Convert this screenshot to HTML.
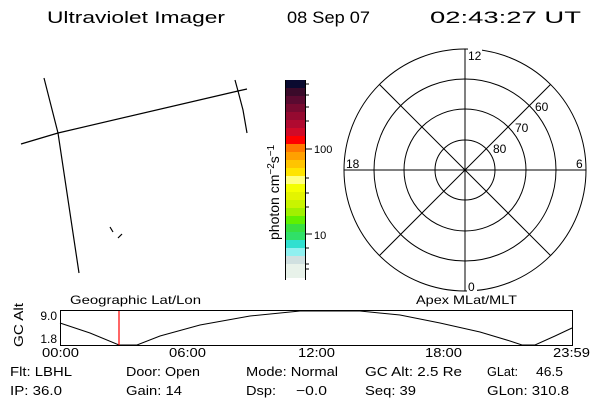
<!DOCTYPE html>
<html><head><meta charset="utf-8"><style>
html,body{margin:0;padding:0;background:#fff;}
svg{display:block;font-family:"Liberation Sans",sans-serif;}
</style></head><body>
<svg width="600" height="400" viewBox="0 0 600 400" xmlns="http://www.w3.org/2000/svg">
<rect width="600" height="400" fill="#fff"/>
<g font-size="17" fill="#000">
<text x="47" y="23" textLength="178" lengthAdjust="spacingAndGlyphs">Ultraviolet Imager</text>
<text x="287" y="23" textLength="83" lengthAdjust="spacingAndGlyphs">08 Sep 07</text>
<text x="430" y="23" textLength="151" lengthAdjust="spacingAndGlyphs">02:43:27 UT</text>
</g>
<g stroke="#000" stroke-width="1.2" fill="none">
<polyline points="44,78 58,133 79,273"/>
<polyline points="21,144 58,133 238,91 247,89"/>
<polyline points="235,80 238,91 243,110 247,133"/>
<line x1="110" y1="227" x2="113" y2="232"/>
<line x1="118" y1="238" x2="122" y2="234"/>
</g>
<g>
<rect x="285" y="80" width="21" height="9" fill="#0a0a30"/>
<rect x="285" y="88" width="21" height="9" fill="#3a0a2a"/>
<rect x="285" y="96" width="21" height="9" fill="#5a0a30"/>
<rect x="285" y="104" width="21" height="9" fill="#780a30"/>
<rect x="285" y="112" width="21" height="9" fill="#950a30"/>
<rect x="285" y="120" width="21" height="9" fill="#b00a30"/>
<rect x="285" y="128" width="21" height="9" fill="#d00a28"/>
<rect x="285" y="136" width="21" height="9" fill="#ff0000"/>
<rect x="285" y="144" width="21" height="9" fill="#ff7800"/>
<rect x="285" y="152" width="21" height="9" fill="#ffa000"/>
<rect x="285" y="160" width="21" height="9" fill="#ffc400"/>
<rect x="285" y="168" width="21" height="9" fill="#ffe400"/>
<rect x="285" y="176" width="21" height="9" fill="#ffff80"/>
<rect x="285" y="184" width="21" height="9" fill="#f4ff00"/>
<rect x="285" y="192" width="21" height="9" fill="#e4f400"/>
<rect x="285" y="200" width="21" height="9" fill="#c8f400"/>
<rect x="285" y="208" width="21" height="9" fill="#a0f000"/>
<rect x="285" y="216" width="21" height="9" fill="#60f000"/>
<rect x="285" y="224" width="21" height="9" fill="#38e040"/>
<rect x="285" y="232" width="21" height="9" fill="#30e068"/>
<rect x="285" y="240" width="21" height="9" fill="#30e0d0"/>
<rect x="285" y="248" width="21" height="9" fill="#90f0f0"/>
<rect x="285" y="256" width="21" height="9" fill="#d0e0e0"/>
<rect x="285" y="264" width="21" height="14" fill="#e8f2ea"/>
</g>
<g stroke="#000" stroke-width="1">
<line x1="285.5" y1="80" x2="285.5" y2="280"/>
<line x1="305.5" y1="80" x2="305.5" y2="280"/>
<line x1="305" y1="84" x2="309" y2="84"/>
<line x1="305" y1="95" x2="309" y2="95"/>
<line x1="305" y1="107" x2="309" y2="107"/>
<line x1="305" y1="121" x2="309" y2="121"/>
<line x1="305" y1="149" x2="312" y2="149"/>
<line x1="305" y1="178" x2="309" y2="178"/>
<line x1="305" y1="193" x2="309" y2="193"/>
<line x1="305" y1="207" x2="309" y2="207"/>
<line x1="305" y1="234" x2="312" y2="234"/>
<line x1="305" y1="248" x2="309" y2="248"/>
<line x1="305" y1="264" x2="309" y2="264"/>
<line x1="305" y1="269" x2="309" y2="269"/>
</g>
<g font-size="11">
<text x="314" y="153">100</text>
<text x="314" y="239">10</text>
</g>
<text transform="translate(279,240) rotate(-90)" font-size="14">photon cm<tspan dy="-5" font-size="10">−2</tspan><tspan dy="5">s</tspan><tspan dy="-5" font-size="10">−1</tspan></text>
<g stroke="#000" stroke-width="1" fill="none">
<circle cx="465" cy="170" r="121"/>
<circle cx="465" cy="170" r="91"/>
<circle cx="465" cy="170" r="61"/>
<circle cx="465" cy="170" r="30"/>
<line x1="344" y1="170" x2="586" y2="170"/>
<line x1="465" y1="49" x2="465" y2="291"/>
<line x1="379.4" y1="84.4" x2="550.6" y2="255.6"/>
<line x1="550.6" y1="84.4" x2="379.4" y2="255.6"/>
</g>
<g font-size="12">
<rect x="468" y="48" width="14" height="13" fill="#fff"/>
<text x="468" y="60">12</text>
<text x="535" y="111">60</text>
<text x="515" y="132">70</text>
<text x="493" y="153">80</text>
<text x="346" y="168">18</text>
<text x="576" y="168">6</text>
<rect x="467" y="280" width="10" height="13" fill="#fff"/>
<text x="468" y="291">0</text>
</g>
<g font-size="12">
<text x="70" y="304" textLength="131" lengthAdjust="spacingAndGlyphs">Geographic Lat/Lon</text>
<text x="416" y="304" textLength="101" lengthAdjust="spacingAndGlyphs">Apex MLat/MLT</text>
<text x="57" y="320" text-anchor="end">9.0</text>
<text x="57" y="343" text-anchor="end">1.8</text>
<text transform="translate(23,347) rotate(-90)" font-size="13" textLength="44" lengthAdjust="spacingAndGlyphs">GC Alt</text>
</g>
<rect x="60.5" y="310.5" width="512" height="35" fill="none" stroke="#000"/>
<polyline fill="none" stroke="#000" stroke-width="1" points="60,323 90,333 119,345 137,345 160,336 200,325 250,316 300,311 360,311 400,315 440,323 480,332 510,341 522,345 535,345 555,336 572,328"/>
<line x1="119" y1="311" x2="119" y2="345" stroke="#ff0000" stroke-width="1.2"/>
<g font-size="13">
<text x="42" y="357" textLength="37" lengthAdjust="spacingAndGlyphs">00:00</text>
<text x="169" y="357" textLength="37" lengthAdjust="spacingAndGlyphs">06:00</text>
<text x="298" y="357" textLength="37" lengthAdjust="spacingAndGlyphs">12:00</text>
<text x="425" y="357" textLength="37" lengthAdjust="spacingAndGlyphs">18:00</text>
<text x="553" y="357" textLength="37" lengthAdjust="spacingAndGlyphs">23:59</text>
</g>
<g font-size="13">
<text x="10" y="376" textLength="62" lengthAdjust="spacingAndGlyphs">Flt: LBHL</text>
<text x="126" y="376" textLength="74" lengthAdjust="spacingAndGlyphs">Door: Open</text>
<text x="246" y="376" textLength="92" lengthAdjust="spacingAndGlyphs">Mode: Normal</text>
<text x="365" y="376" textLength="97" lengthAdjust="spacingAndGlyphs">GC Alt: 2.5 Re</text>
<text x="487" y="376" textLength="31" lengthAdjust="spacingAndGlyphs">GLat:</text>
<text x="536" y="376" textLength="27" lengthAdjust="spacingAndGlyphs">46.5</text>
<text x="10" y="395" textLength="52" lengthAdjust="spacingAndGlyphs">IP: 36.0</text>
<text x="126" y="395" textLength="56" lengthAdjust="spacingAndGlyphs">Gain: 14</text>
<text x="246" y="395" textLength="30" lengthAdjust="spacingAndGlyphs">Dsp:</text>
<text x="296" y="395" textLength="31" lengthAdjust="spacingAndGlyphs">−0.0</text>
<text x="365" y="395" textLength="51" lengthAdjust="spacingAndGlyphs">Seq: 39</text>
<text x="487" y="395" textLength="82" lengthAdjust="spacingAndGlyphs">GLon: 310.8</text>
</g>
</svg>
</body></html>
